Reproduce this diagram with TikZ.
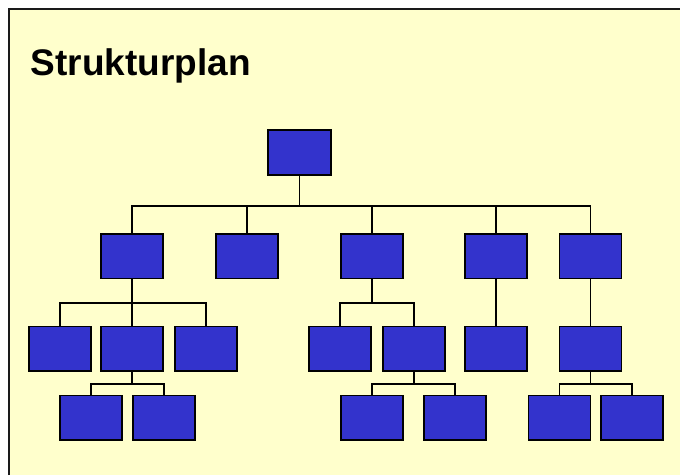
\documentclass[tikz,border=0pt]{standalone}
\usepackage{fontspec}
\setmainfont{Liberation Sans}
\definecolor{paper}{HTML}{FFFFCC}
\definecolor{boxblue}{HTML}{3333CC}
\definecolor{framegray}{HTML}{1A1A1A}
\tikzset{
  unit/.style={rectangle, draw=black, fill=boxblue, line width=1.8pt,
    minimum width=62pt, minimum height=44.5pt, inner sep=0pt},
  link/.style={draw=black, line width=1.7pt},
}
\begin{document}
\begin{tikzpicture}[x=1pt,y=-1pt]
\useasboundingbox (0,0) rectangle (680,475);
\fill[white] (0,0) rectangle (680,475);
\fill[paper] (9,9) rectangle (680,475);
\draw[framegray, line width=2pt] (9,475) -- (9,9) -- (680,9);

\node[anchor=base west, inner sep=0pt, font=\bfseries\fontsize{37}{40}\selectfont]
  (title) at (30.5,75) {Strukturplan};

% bus heights
\coordinate (b0) at (0,205.7);
\coordinate (b1) at (0,303.3);
\coordinate (b2) at (0,383.7);

% root
\node[unit, minimum width=63.5pt] (r) at (299.5,152.5) {};
% level 1
\node[unit] (a1) at (132,256.3) {};
\node[unit] (a2) at (247,256.3) {};
\node[unit] (a3) at (372,256.3) {};
\node[unit] (a4) at (496,256.3) {};
\node[unit] (a5) at (590.5,256.3) {};
% level 2
\node[unit] (c1) at (60,348.7) {};
\node[unit] (c2) at (132,348.7) {};
\node[unit] (c3) at (206,348.7) {};
\node[unit] (c4) at (340,348.7) {};
\node[unit] (c5) at (414,348.7) {};
\node[unit] (c6) at (496,348.7) {};
\node[unit] (c7) at (590.5,348.7) {};
% level 3
\node[unit] (d1) at (91,417.7) {};
\node[unit] (d2) at (164,417.7) {};
\node[unit] (d3) at (372,417.7) {};
\node[unit] (d4) at (455,417.7) {};
\node[unit] (d5) at (559.5,417.7) {};
\node[unit] (d6) at (632,417.7) {};

% root to level 1
\foreach \c in {a1,a2,a3,a4,a5}
  \draw[link] (r.south) -- (r.south |- b0) -| (\c.north);
% level 1 to level 2
\foreach \c in {c1,c2,c3}
  \draw[link] (a1.south) -- (a1.south |- b1) -| (\c.north);
\foreach \c in {c4,c5}
  \draw[link] (a3.south) -- (a3.south |- b1) -| (\c.north);
\draw[link] (a4.south) -- (c6.north);
\draw[link] (a5.south) -- (c7.north);
% level 2 to level 3
\foreach \c in {d1,d2}
  \draw[link] (c2.south) -- (c2.south |- b2) -| (\c.north);
\foreach \c in {d3,d4}
  \draw[link] (c5.south) -- (c5.south |- b2) -| (\c.north);
\foreach \c in {d5,d6}
  \draw[link] (c7.south) -- (c7.south |- b2) -| (\c.north);
\end{tikzpicture}
\end{document}
